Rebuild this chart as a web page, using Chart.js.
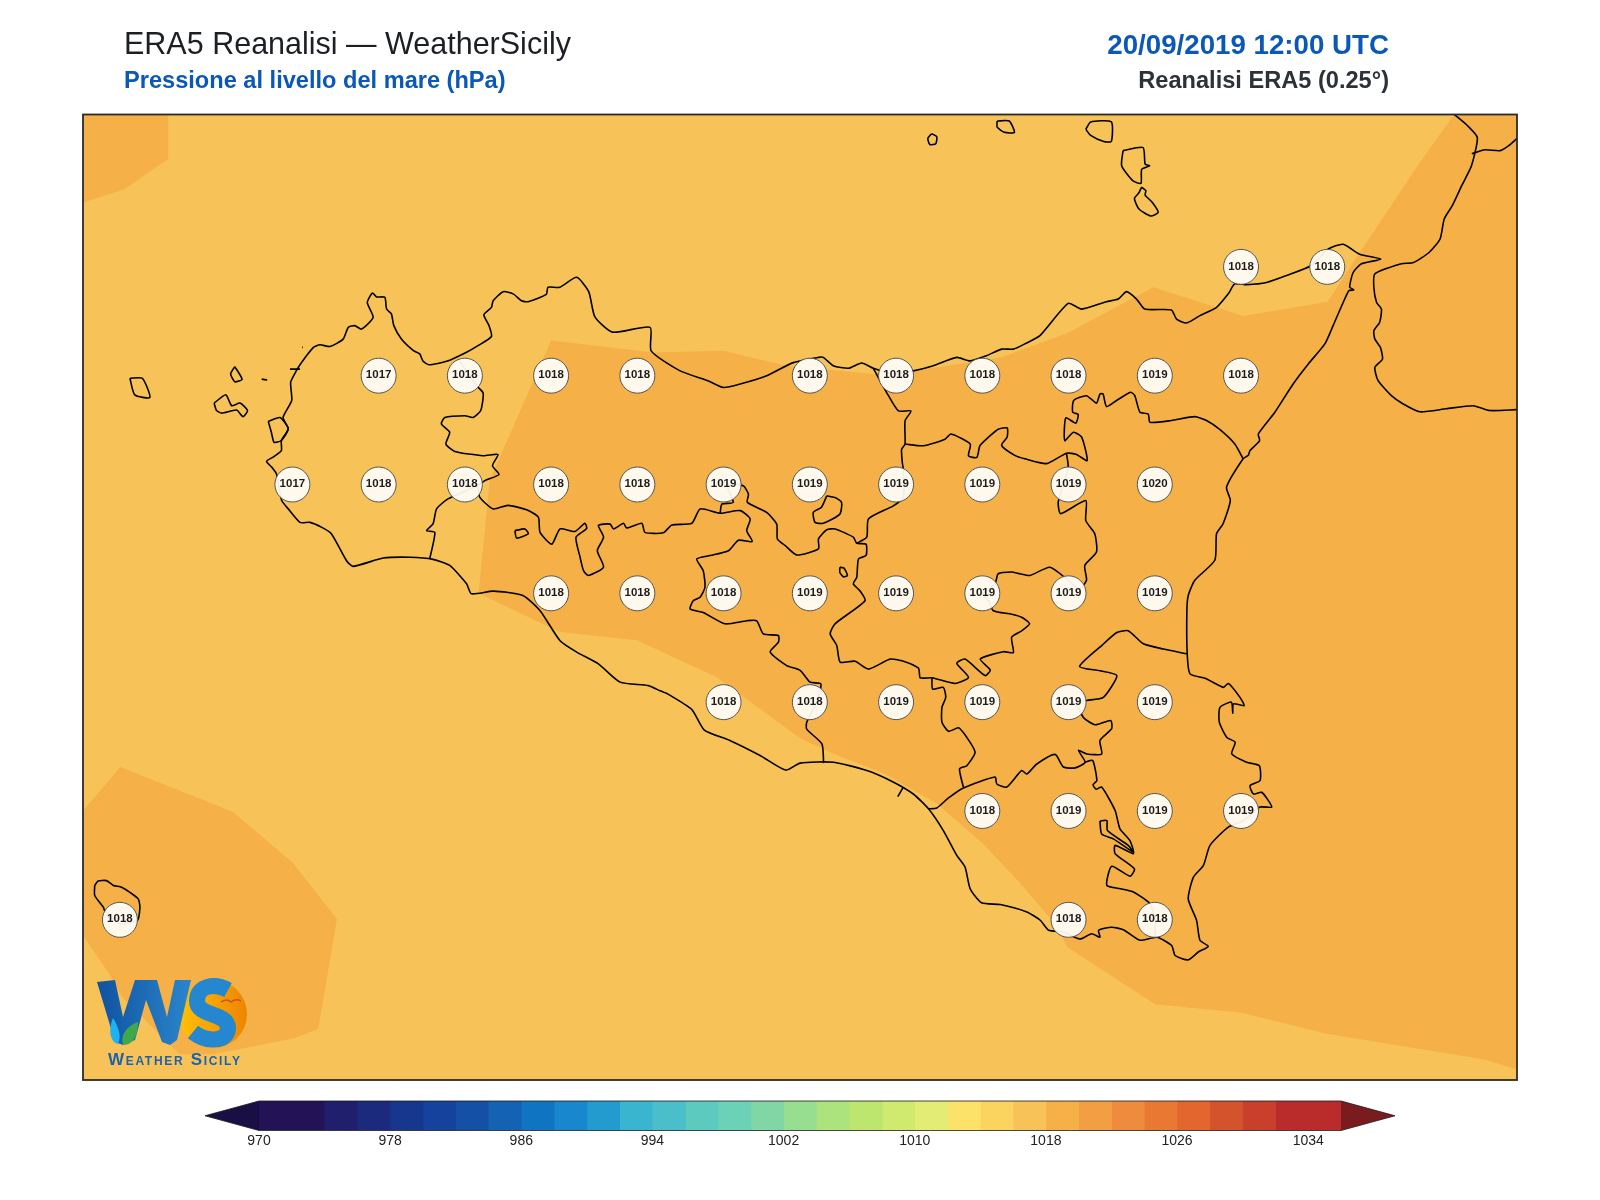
<!DOCTYPE html>
<html lang="it">
<head>
<meta charset="utf-8">
<title>ERA5 Reanalisi - WeatherSicily</title>
<script src="https://cdn.jsdelivr.net/npm/chart.js@4/dist/chart.umd.min.js"></script>
<style>
  html, body { margin: 0; padding: 0; background: #fff; }
  #page { position: relative; width: 1600px; height: 1200px; overflow: hidden; font-family: "Liberation Sans", Arial, sans-serif; }
  #page canvas { position: absolute; left: 0; }
  .txt { position: absolute; white-space: nowrap; line-height: 1; }
  #logo { position: absolute; left: 90px; top: 970px; }
</style>
</head>
<body>
<div id="page">
  <canvas id="mappa" width="1600" height="1090" style="top:0"></canvas>
  <canvas id="barra" width="1600" height="70" style="top:1090px"></canvas>
  <div class="txt" style="left:124px;top:28px;font-size:30.5px;color:#1c1f24">ERA5 Reanalisi — WeatherSicily</div>
  <div class="txt" style="left:124px;top:69px;font-size:23.6px;font-weight:bold;color:#0b58b8">Pressione al livello del mare (hPa)</div>
  <div class="txt" style="right:211px;top:31px;font-size:27.7px;font-weight:bold;color:#0b58b8">20/09/2019 12:00 UTC</div>
  <div class="txt" style="right:211px;top:69px;font-size:23.6px;font-weight:bold;color:#2d3239">Reanalisi ERA5 (0.25°)</div>
  <svg id="logo" width="170" height="105" viewBox="90 970 170 105">
    <defs>
      <linearGradient id="gW" x1="0" y1="0" x2="1" y2="0"><stop offset="0" stop-color="#10529f"/><stop offset="1" stop-color="#2a86cc"/></linearGradient>
      <linearGradient id="gO" x1="0" y1="0" x2="1" y2="0"><stop offset="0" stop-color="#ffc107"/><stop offset="1" stop-color="#ee8400"/></linearGradient>
    </defs>
    <circle cx="213" cy="1014" r="34" fill="url(#gO)"/>
    <polygon points="97,982 115,980 123,1017 135,980 157,980 167,1017 175,980 191,980 177,1040 170,1045 162,1042 146,1000 135,1040 123,1045 115,1042" fill="url(#gW)"/>
    <path d="M113 1018 C108 1030 110 1042 118 1044 C122 1036 118 1026 113 1018 Z" fill="#1bb4f0"/>
    <path d="M138 1022 C126 1026 120 1036 123 1045 C134 1045 138 1034 138 1022 Z" fill="#3fa84a"/>
    <path d="M228 990 C215 983 197 985 197 1001 C197 1017 228 1012 228 1028 C228 1043 205 1042 193 1032" fill="none" stroke="#2487cf" stroke-width="16"/>
    <path d="M221 1002 q6 -4 10 0 q5 -4 10 -1" fill="none" stroke="#c8502a" stroke-width="1.4"/>
    <text x="108" y="1065" font-family="Liberation Sans" font-size="17" font-weight="bold" fill="#1c62ad" style="font-variant:small-caps" textLength="132">Weather Sicily</text>
  </svg>
</div>

<script>
const stationLon = [15.25,15.5,
  12.75,13,13.25,13.5,14,14.25,14.5,14.75,15,15.25,
  12.5,12.75,13,13.25,13.5,13.75,14,14.25,14.5,14.75,15,
  13.25,13.5,13.75,14,14.25,14.5,14.75,15,
  13.75,14,14.25,14.5,14.75,15,
  14.5,14.75,15,15.25,
  12,14.75,15];
const stationLat = [38.25,38.25,
  38,38,38,38,38,38,38,38,38,38,
  37.75,37.75,37.75,37.75,37.75,37.75,37.75,37.75,37.75,37.75,37.75,
  37.5,37.5,37.5,37.5,37.5,37.5,37.5,37.5,
  37.25,37.25,37.25,37.25,37.25,37.25,
  37,37,37,37,
  36.75,36.75,36.75];
const stationHpa = [1018,1018,
  1017,1018,1018,1018,1018,1018,1018,1018,1019,1018,
  1017,1018,1018,1018,1018,1019,1019,1019,1019,1019,1020,
  1018,1018,1018,1019,1019,1019,1019,1019,
  1018,1018,1019,1019,1019,1019,
  1018,1019,1019,1019,
  1018,1018,1018];

// colorbar
const levels = [970,972,974,976,978,980,982,984,986,988,990,992,994,996,998,1000,1002,1004,1006,1008,1010,1012,1014,1016,1018,1020,1022,1024,1026,1028,1030,1032,1034];
const levelColors = ['#231256','#231256','#1f1f6e','#1b2a7d','#17378f','#15429c','#1451a6','#1362b3','#0f75c3','#1887cd','#239bcf','#3ab5d0','#4abfca','#5ccabf','#6cd2b7','#80d6a4','#98de90','#ace37d','#bde66e','#d0e96f','#e3ec74','#fde26a','#fbd35f','#f7c257','#f5b047','#f19f42','#ee8b3c','#e97832','#e2662e','#d4532c','#c8402c','#ba2c2c','#ba2c2c'];
const underColor = '#1a0f45';
const overColor = '#7a1b1e';
const tickValues = [970,978,986,994,1002,1010,1018,1026,1034];

// contorni 1018 hPa (lon, lat)
const zonaNordOvest = [[11.89,38.6],[12.14,38.6],[12.14,38.498],[12.013,38.428],[11.89,38.397]];
const zonaCentrale = [[15.868,38.6],[15.771,38.493],[15.602,38.292],[15.501,38.17],[15.256,38.137],[14.996,38.203],[14.744,38.097],[14.552,38.041],[14.377,38.02],[14.185,38.004],[13.933,38.022],[13.75,38.057],[13.546,38.053],[13.25,38.081],[13.072,37.76],[13.04,37.5],[13.22,37.432],[13.277,37.411],[13.499,37.392],[13.729,37.308],[13.972,37.167],[14.067,37.132],[14.212,37.087],[14.368,37.017],[14.501,36.926],[14.602,36.841],[14.703,36.748],[14.747,36.687],[15.001,36.556],[15.247,36.537],[15.499,36.488],[15.957,36.429],[16.05,36.406],[16.05,38.6]];
const zonaPantelleria = [[11.89,36.998],[12.001,37.101],[12.327,36.998],[12.501,36.881],[12.629,36.752],[12.575,36.499],[12.504,36.478],[12.271,36.441],[12.173,36.441],[12.007,36.572],[11.963,36.633],[11.89,36.717]];

// costa Sicilia
const costaSicilia = [[12.444,37.813],[12.468,37.828],[12.468,37.851],[12.488,37.878],[12.473,37.904],[12.498,37.943],[12.495,37.985],[12.512,38.012],[12.527,38.031],[12.561,38.065],[12.58,38.071],[12.609,38.067],[12.647,38.084],[12.662,38.111],[12.681,38.115],[12.7,38.107],[12.734,38.134],[12.717,38.168],[12.732,38.19],[12.744,38.181],[12.768,38.18],[12.773,38.153],[12.787,38.142],[12.794,38.115],[12.816,38.084],[12.85,38.058],[12.869,38.05],[12.879,38.033],[12.896,38.025],[12.947,38.033],[13.005,38.054],[13.038,38.069],[13.077,38.09],[13.07,38.115],[13.055,38.14],[13.077,38.157],[13.082,38.172],[13.111,38.193],[13.14,38.188],[13.164,38.172],[13.183,38.17],[13.236,38.187],[13.241,38.203],[13.275,38.203],[13.324,38.226],[13.359,38.193],[13.377,38.135],[13.428,38.1],[13.537,38.111],[13.54,38.057],[13.624,38.011],[13.706,37.988],[13.749,37.973],[13.798,37.981],[13.875,38],[13.952,38.03],[14.025,38.042],[14.039,38.042],[14.068,38.023],[14.112,38.017],[14.15,38.029],[14.184,38.017],[14.242,38.004],[14.3,38.011],[14.358,38.023],[14.426,38.042],[14.464,38.034],[14.512,38.046],[14.556,38.061],[14.59,38.061],[14.623,38.073],[14.667,38.092],[14.749,38.166],[14.788,38.153],[14.86,38.17],[14.894,38.176],[14.918,38.193],[14.947,38.176],[14.971,38.153],[15.048,38.151],[15.063,38.13],[15.092,38.121],[15.131,38.138],[15.179,38.157],[15.213,38.188],[15.232,38.211],[15.266,38.209],[15.324,38.214],[15.382,38.23],[15.454,38.253],[15.503,38.291],[15.546,38.302],[15.594,38.279],[15.655,38.268],[15.599,38.257],[15.575,38.237],[15.565,38.203],[15.577,38.197],[15.562,38.195],[15.517,38.115],[15.493,38.073],[15.445,38.027],[15.401,37.981],[15.348,37.916],[15.3,37.866],[15.304,37.851],[15.276,37.828],[15.271,37.817],[15.256,37.809],[15.208,37.744],[15.219,37.713],[15.198,37.66],[15.179,37.637],[15.174,37.576],[15.116,37.53],[15.097,37.495],[15.093,37.46],[15.094,37.361],[15.102,37.315],[15.146,37.305],[15.199,37.284],[15.213,37.293],[15.247,37.261],[15.259,37.242],[15.228,37.246],[15.226,37.225],[15.222,37.25],[15.189,37.238],[15.187,37.204],[15.209,37.169],[15.233,37.158],[15.223,37.131],[15.266,37.112],[15.303,37.104],[15.305,37.07],[15.276,37.058],[15.286,37.039],[15.31,37.043],[15.339,37.009],[15.305,37.009],[15.257,36.978],[15.213,36.963],[15.16,36.921],[15.141,36.875],[15.112,36.848],[15.097,36.798],[15.121,36.749],[15.131,36.703],[15.155,36.689],[15.126,36.676],[15.097,36.658],[15.059,36.668],[15.049,36.691],[15.006,36.71],[14.957,36.703],[14.909,36.727],[14.875,36.733],[14.837,36.726],[14.841,36.71],[14.817,36.718],[14.783,36.706],[14.735,36.722],[14.692,36.726],[14.668,36.749],[14.629,36.768],[14.552,36.785],[14.498,36.789],[14.465,36.821],[14.45,36.871],[14.426,36.898],[14.387,36.955],[14.344,37.005],[14.3,37.039],[14.233,37.07],[14.165,37.093],[14.069,37.112],[13.972,37.11],[13.93,37.094],[13.857,37.127],[13.768,37.162],[13.694,37.186],[13.658,37.233],[13.59,37.268],[13.566,37.276],[13.532,37.288],[13.45,37.296],[13.387,37.338],[13.324,37.365],[13.276,37.391],[13.218,37.46],[13.168,37.495],[13.082,37.505],[13.019,37.499],[13.005,37.522],[12.956,37.564],[12.908,37.578],[12.841,37.583],[12.763,37.581],[12.676,37.562],[12.657,37.575],[12.613,37.637],[12.584,37.652],[12.551,37.663],[12.522,37.663],[12.488,37.694],[12.469,37.713],[12.454,37.774],[12.44,37.79],[12.425,37.803],[12.444,37.813]];
const stagnone = [[12.43,37.895],[12.464,37.904],[12.488,37.878],[12.468,37.851],[12.447,37.847],[12.439,37.87],[12.43,37.895]];
const puntaTrapani = [[12.493,38.015],[12.522,38.015]];
const scoglio1 = [[12.411,37.992],[12.427,37.99]];
const scoglio2 = [[12.528,38.065],[12.53,38.065]];
const marettimo = [[12.029,37.994],[12.065,37.994],[12.087,37.95],[12.043,37.956],[12.029,37.994]];
const favignana = [[12.273,37.937],[12.307,37.956],[12.324,37.931],[12.348,37.937],[12.37,37.92],[12.357,37.906],[12.338,37.921],[12.295,37.914],[12.28,37.92],[12.273,37.937]];
const levanzo = [[12.333,38.021],[12.354,37.992],[12.333,37.986],[12.321,38.004],[12.333,38.021]];
const pantelleria = [[11.927,36.829],[11.937,36.839],[11.961,36.84],[11.981,36.829],[12.005,36.825],[12.029,36.813],[12.053,36.798],[12.058,36.779],[12.05,36.748],[12,36.741],[11.956,36.771],[11.952,36.779],[11.927,36.806],[11.927,36.829]];
const alicudi = [[14.353,38.556],[14.368,38.549],[14.365,38.533],[14.348,38.531],[14.342,38.545],[14.353,38.556]];
const filicudi = [[14.543,38.585],[14.578,38.585],[14.593,38.559],[14.564,38.559],[14.543,38.571],[14.543,38.585]];
const salina = [[14.8,38.566],[14.814,38.583],[14.874,38.583],[14.874,38.538],[14.852,38.538],[14.814,38.552],[14.8,38.566]];
const lipari = [[14.908,38.517],[14.966,38.524],[14.972,38.486],[14.985,38.482],[14.962,38.474],[14.96,38.442],[14.936,38.448],[14.904,38.482],[14.908,38.517]];
const vulcano = [[14.954,38.42],[14.962,38.432],[14.974,38.425],[14.972,38.415],[14.993,38.398],[15.01,38.375],[14.988,38.367],[14.954,38.383],[14.941,38.407],[14.954,38.42]];
const calabria = [[15.868,38.6],[15.907,38.574],[15.935,38.547],[15.918,38.482],[15.89,38.437],[15.862,38.39],[15.839,38.36],[15.827,38.314],[15.795,38.283],[15.75,38.26],[15.715,38.257],[15.638,38.234],[15.635,38.203],[15.643,38.168],[15.657,38.153],[15.652,38.123],[15.635,38.103],[15.638,38.084],[15.654,38.065],[15.66,38.038],[15.638,38.019],[15.647,37.989],[15.686,37.954],[15.72,37.935],[15.768,37.917],[15.845,37.924],[15.923,37.931],[15.971,37.92],[16.05,37.922]];
const calabriaVibo = [[15.919,38.51],[15.957,38.519],[16.001,38.517],[16.025,38.528],[16.05,38.545]];

// confini provinciali
const confTrapani = [[12.981,38.038],[13.034,37.977],[13.053,37.96],[13.046,37.92],[13.024,37.904],[13,37.908],[12.942,37.904],[12.932,37.889],[12.956,37.87],[12.945,37.843],[12.971,37.826],[13.053,37.816],[13.096,37.819],[13.08,37.793],[13.099,37.773],[13.058,37.759],[13.038,37.748],[12.951,37.717],[12.918,37.694],[12.908,37.66],[12.889,37.644],[12.913,37.64],[12.898,37.579]];
const confAgrigento = [[13.038,37.748],[13.043,37.721],[13.082,37.694],[13.125,37.702],[13.179,37.692],[13.213,37.675],[13.218,37.64],[13.252,37.613],[13.276,37.648],[13.319,37.642],[13.348,37.661],[13.353,37.649],[13.322,37.629],[13.334,37.583],[13.344,37.552],[13.358,37.541],[13.402,37.56],[13.384,37.598],[13.402,37.629],[13.387,37.656],[13.421,37.659],[13.431,37.648],[13.46,37.661],[13.469,37.65],[13.513,37.661],[13.522,37.64],[13.575,37.639],[13.6,37.657],[13.658,37.661],[13.682,37.694],[13.74,37.684],[13.798,37.69],[13.827,37.671],[13.817,37.644],[13.833,37.619],[13.793,37.622],[13.764,37.598],[13.711,37.587],[13.672,37.579],[13.691,37.552],[13.696,37.514],[13.682,37.491],[13.662,37.483],[13.653,37.464],[13.691,37.456],[13.754,37.43],[13.817,37.437],[13.846,37.437],[13.865,37.407],[13.909,37.403],[13.909,37.388],[13.885,37.365],[13.933,37.334],[13.972,37.323],[14.001,37.296],[14.032,37.292],[14.02,37.25],[13.991,37.204],[13.991,37.188],[14.035,37.154],[14.04,37.11]];
const laghetto = [[13.145,37.644],[13.174,37.648],[13.184,37.637],[13.15,37.627],[13.145,37.644]];
const confCaltanissetta = [[13.74,37.684],[13.745,37.705],[13.778,37.709],[13.76,37.75],[13.807,37.747],[13.822,37.728],[13.819,37.709],[13.875,37.686],[13.904,37.659],[13.906,37.625],[13.928,37.61],[13.962,37.588],[14.025,37.602],[14.025,37.625],[14.049,37.646],[14.073,37.648],[14.126,37.629],[14.136,37.615],[14.163,37.613],[14.163,37.587],[14.141,37.579],[14.136,37.537],[14.126,37.522],[14.145,37.506],[14.16,37.483],[14.073,37.43],[14.059,37.407],[14.078,37.38],[14.088,37.342],[14.131,37.344],[14.17,37.326],[14.233,37.349],[14.267,37.345],[14.315,37.328],[14.32,37.306],[14.354,37.306],[14.421,37.293],[14.46,37.307],[14.426,37.339],[14.45,37.349],[14.508,37.311],[14.523,37.324],[14.494,37.349],[14.561,37.366],[14.59,37.364],[14.585,37.399],[14.614,37.414],[14.637,37.43],[14.614,37.445],[14.585,37.452],[14.532,37.46],[14.518,37.483],[14.5,37.5]];
const confEnnaCatania = [[14.5,37.5],[14.537,37.522],[14.546,37.545],[14.585,37.549],[14.609,37.545],[14.638,37.541],[14.696,37.56],[14.749,37.53],[14.78,37.51],[14.802,37.53],[14.797,37.564],[14.831,37.595],[14.826,37.637],[14.8,37.667],[14.8,37.713],[14.727,37.683],[14.72,37.709],[14.735,37.75],[14.749,37.79],[14.744,37.822]];
const confMessina = [[15.256,37.809],[15.232,37.843],[15.189,37.876],[15.15,37.897],[15.116,37.906],[15.048,37.897],[14.986,37.893],[14.981,37.912],[14.957,37.916],[14.942,37.954],[14.93,37.962],[14.889,37.943],[14.86,37.929],[14.85,37.958],[14.841,37.958],[14.831,37.937],[14.802,37.954],[14.765,37.943],[14.762,37.916],[14.778,37.911],[14.771,37.891],[14.742,37.903],[14.739,37.851],[14.764,37.87],[14.788,37.859],[14.804,37.805],[14.773,37.819],[14.744,37.822],[14.686,37.798],[14.623,37.809],[14.594,37.817],[14.556,37.84],[14.572,37.859],[14.572,37.88],[14.546,37.877],[14.517,37.858],[14.493,37.839],[14.484,37.812],[14.46,37.816],[14.465,37.843],[14.409,37.866],[14.392,37.854],[14.329,37.839],[14.276,37.843]];
const confPalermoMessina = [[14.184,38.017],[14.228,37.954],[14.257,37.919],[14.293,37.919],[14.276,37.896],[14.276,37.843],[14.266,37.831],[14.268,37.801],[14.271,37.785],[14.271,37.72],[14.242,37.701],[14.17,37.671],[14.165,37.629],[14.136,37.615]];
const lagoPergusa = [[14.087,37.56],[14.099,37.558],[14.109,37.541],[14.097,37.538],[14.087,37.548],[14.087,37.56]];
const enclave = [[14.049,37.724],[14.073,37.72],[14.092,37.709],[14.087,37.682],[14.039,37.661],[14.015,37.663],[14.01,37.686],[14.034,37.698],[14.049,37.724]];
const confGela = [[14.354,37.306],[14.356,37.28],[14.387,37.284],[14.394,37.261],[14.383,37.238],[14.383,37.204],[14.402,37.183],[14.431,37.191],[14.455,37.169],[14.479,37.135],[14.455,37.104],[14.434,37.097],[14.445,37.055]];
const confRagusa = [[14.344,37.005],[14.368,37.007],[14.402,37.03],[14.445,37.053],[14.537,37.078],[14.542,37.062],[14.571,37.055],[14.614,37.093],[14.629,37.085],[14.658,37.108],[14.711,37.13],[14.735,37.101],[14.769,37.099],[14.798,37.112],[14.779,37.139],[14.803,37.131],[14.846,37.131],[14.841,37.162],[14.875,37.189],[14.872,37.208],[14.827,37.198],[14.793,37.215],[14.775,37.25],[14.803,37.254],[14.851,37.261],[14.89,37.311],[14.841,37.322],[14.782,37.332],[14.846,37.38],[14.89,37.41],[14.923,37.414],[14.967,37.384],[15.025,37.372],[15.093,37.361]];
const confSiracusa = [[14.798,37.112],[14.82,37.116],[14.832,37.07],[14.821,37.06],[14.83,37.05],[14.846,37.055],[14.885,37.001],[14.899,36.959],[14.928,36.932],[14.938,36.902],[14.885,36.921],[14.885,36.902],[14.941,36.867],[14.928,36.85],[14.875,36.873],[14.861,36.829],[14.904,36.821],[14.938,36.814],[14.986,36.787],[15.001,36.75],[15.001,36.71]];
const pantano = [[14.841,36.977],[14.861,36.978],[14.863,36.955],[14.923,36.921],[14.938,36.905],[14.88,36.936],[14.846,36.947],[14.841,36.977]];
const tickGela = [[14.271,37.055],[14.255,37.033]];

const lineeMappa = [costaSicilia, stagnone, puntaTrapani, scoglio1, scoglio2, marettimo, favignana, levanzo, pantelleria, alicudi, filicudi, salina, lipari, vulcano, calabria, calabriaVibo,
  confTrapani, confAgrigento, laghetto, confCaltanissetta, confEnnaCatania, confMessina, confPalermoMessina, lagoPergusa, enclave, confGela, confRagusa, confSiracusa, pantano, tickGela];
const zoneMappa = [zonaNordOvest, zonaCentrale, zonaPantelleria];

const toXY = arr => arr.map(p => ({ x: p[0], y: p[1] }));

/* dataset della mappa */
let dsMappa = [];
zoneMappa.forEach(z => {
  dsMappa.push({ data: toXY(z), showLine: true, fill: 'shape', backgroundColor: '#f5b047', borderWidth: 0, pointRadius: 0, tension: 0, order: 3 });
});
lineeMappa.forEach(l => {
  dsMappa.push({ data: toXY(l), showLine: true, fill: false, borderColor: '#000', borderWidth: 1.6, pointRadius: 0, tension: 0.2, order: 2 });
});
dsMappa.push({
  data: stationLon.map((lon, i) => ({ x: lon, y: stationLat[i] })),
  showLine: false, pointRadius: 17.5, backgroundColor: 'rgba(255,252,247,0.94)', borderColor: '#555', borderWidth: 1, order: 1
});

const plugMappa = {
  id: 'plugMappa',
  beforeDraw(chart) {
    const a = chart.chartArea, c = chart.ctx;
    c.fillStyle = '#f7c257';
    c.fillRect(a.left, a.top, a.width, a.height);
  },
  afterDraw(chart) {
    const a = chart.chartArea, c = chart.ctx;
    c.save();
    c.strokeStyle = '#2b2b2b';
    c.lineWidth = 1.8;
    c.strokeRect(a.left, a.top, a.width, a.height);
    /* etichette hPa */
    const pts = chart.getDatasetMeta(chart.data.datasets.length - 1).data;
    c.font = 'bold 11.5px "Liberation Sans"';
    c.fillStyle = '#1d1d1d';
    c.textAlign = 'center';
    c.textBaseline = 'middle';
    pts.forEach((p, i) => c.fillText(stationHpa[i], p.x, p.y - 0.5));
    c.restore();
  }
};

new Chart(document.getElementById('mappa'), {
  type: 'scatter',
  data: { datasets: dsMappa },
  plugins: [plugMappa],
  options: {
    responsive: false,
    animation: false,
    devicePixelRatio: 1,
    events: [],
    layout: { autoPadding: false, padding: { left: 83, right: 83, top: 114.5, bottom: 10 } },
    plugins: { legend: { display: false }, tooltip: { enabled: false }, title: { display: false } },
    scales: {
      x: { type: 'linear', min: 11.893, max: 16.05, display: false },
      y: { type: 'linear', min: 36.382, max: 38.6, display: false }
    }
  }
});

/* colorbar con le punte */
const plugPunte = {
  id: 'plugPunte',
  afterDraw(chart) {
    const a = chart.chartArea, c = chart.ctx, mid = (a.top + a.bottom) / 2, punta = 54;
    c.save();
    c.fillStyle = underColor;
    c.beginPath(); c.moveTo(a.left, a.top); c.lineTo(a.left - punta, mid); c.lineTo(a.left, a.bottom); c.closePath(); c.fill();
    c.fillStyle = overColor;
    c.beginPath(); c.moveTo(a.right, a.top); c.lineTo(a.right + punta, mid); c.lineTo(a.right, a.bottom); c.closePath(); c.fill();
    c.strokeStyle = '#1a1a1a';
    c.lineWidth = 0.8;
    c.beginPath();
    c.moveTo(a.left - punta, mid); c.lineTo(a.left, a.top); c.lineTo(a.right, a.top); c.lineTo(a.right + punta, mid);
    c.lineTo(a.right, a.bottom); c.lineTo(a.left, a.bottom); c.closePath();
    c.stroke();
    c.restore();
  }
};

new Chart(document.getElementById('barra'), {
  type: 'bar',
  data: {
    labels: ['hPa'],
    datasets: levels.map((lv, i) => ({
      data: [[lv, lv + 2]],
      backgroundColor: levelColors[i],
      borderWidth: 0,
      grouped: false,
      barPercentage: 1,
      categoryPercentage: 1
    }))
  },
  plugins: [plugPunte],
  options: {
    indexAxis: 'y',
    responsive: false,
    animation: false,
    devicePixelRatio: 1,
    events: [],
    layout: { autoPadding: false, padding: { left: 259, right: 259, top: 11, bottom: 5.5 } },
    plugins: { legend: { display: false }, tooltip: { enabled: false } },
    scales: {
      y: { display: false },
      x: {
        type: 'linear', min: 970, max: 1036,
        grid: { display: false, drawTicks: false },
        border: { display: false },
        afterFit: s => { s.height = 24; },
        afterBuildTicks: s => { s.ticks = tickValues.map(v => ({ value: v })); },
        ticks: { autoSkip: false, maxRotation: 0, padding: 2, color: '#222', font: { family: '"Liberation Sans"', size: 14 }, callback: v => String(v) }
      }
    }
  }
});
</script>
</body>
</html>
